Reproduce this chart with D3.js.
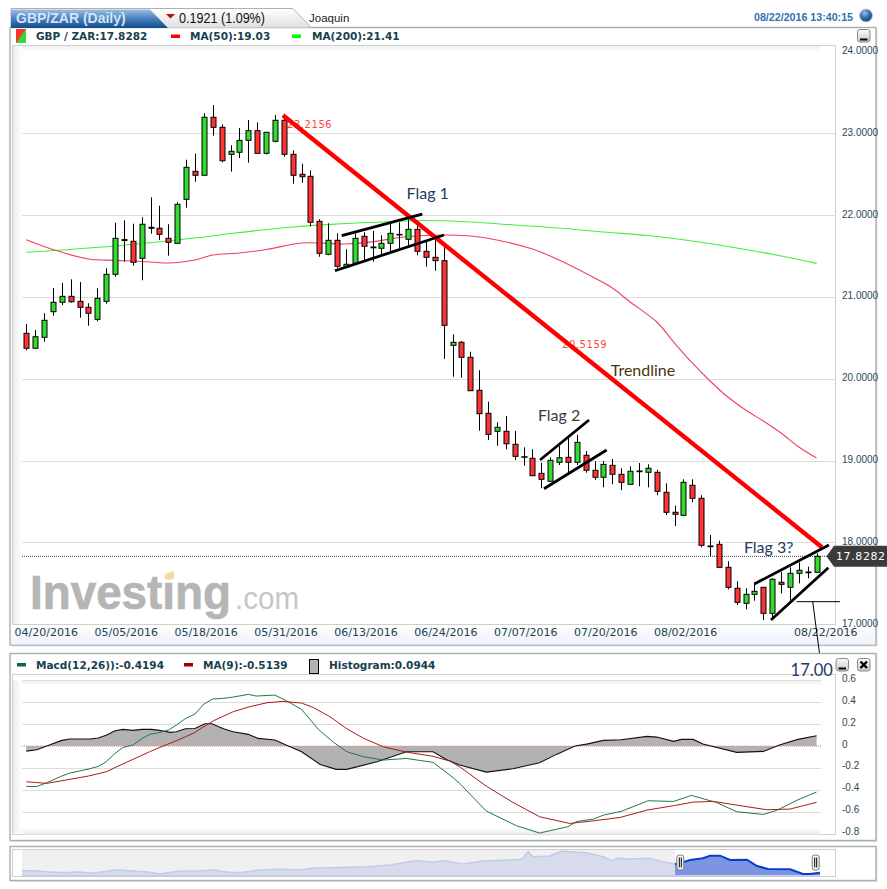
<!DOCTYPE html>
<html><head><meta charset="utf-8">
<script src="https://cdn.jsdelivr.net/npm/d3@7/dist/d3.min.js"></script>
<style>html,body{margin:0;padding:0;background:#fff;overflow:hidden}svg{display:block}</style>
</head><body><svg id="c" width="887" height="889"></svg>
<script>
const opens=[20.555,20.372,20.506,20.819,20.934,21.007,20.946,20.873,20.726,20.946,21.276,21.70,21.68,21.472,21.851,21.839,21.716,21.655,22.193,22.535,22.487,23.196,23.073,22.743,22.768,22.914,23.032,22.755,22.902,23.159,22.743,22.499,22.474,21.924,21.521,21.692,21.366,21.411,21.741,21.61,21.594,21.655,21.765,21.704,21.826,21.557,21.484,21.443,20.408,20.445,20.262,19.858,19.577,19.357,19.357,19.198,19.046,19.027,18.843,18.746,18.978,19.039,18.978,19.064,18.88,18.795,18.941,18.831,18.709,18.872,18.856,18.856,18.611,18.367,18.33,18.697,18.538,17.955,17.975,17.694,17.438,17.254,17.364,17.45,17.132,17.511,17.45,17.621,17.637,17.633];
const closes=[20.372,20.513,20.714,20.934,21.007,20.941,20.873,20.80,20.983,21.276,21.716,21.69,21.423,21.888,21.839,21.765,21.667,22.132,22.584,22.487,23.196,23.073,22.665,22.78,22.914,23.032,22.755,23.012,23.159,22.743,22.487,22.469,21.912,21.533,21.692,21.374,21.399,21.716,21.619,21.60,21.655,21.777,21.757,21.826,21.557,21.484,21.443,20.653,20.445,20.262,19.853,19.572,19.32,19.406,19.205,19.051,19.039,18.814,18.77,19.002,19.034,18.978,19.222,18.88,18.795,18.953,18.831,18.733,18.868,18.863,18.905,18.623,18.367,18.342,18.733,18.538,17.963,17.946,17.694,17.45,17.266,17.364,17.401,17.132,17.548,17.486,17.621,17.658,17.628,17.8282];
const highs=[20.669,20.595,20.80,21.109,21.17,21.215,21.182,20.922,21.105,21.35,21.907,21.936,21.895,21.973,22.218,22.115,21.888,22.156,22.677,22.751,23.245,23.346,23.11,22.853,23.065,23.163,23.134,23.012,23.224,23.187,22.792,22.628,22.548,21.949,21.90,21.777,21.582,21.777,21.79,21.806,21.753,21.90,21.912,21.949,21.867,21.675,21.716,21.622,20.543,20.461,20.33,20.103,19.719,19.467,19.544,19.361,19.161,19.137,18.973,19.039,19.177,19.291,19.312,19.116,18.99,18.994,19.018,18.905,18.929,18.969,18.953,18.887,18.721,18.447,18.77,18.77,18.575,18.089,18.02,17.768,17.523,17.438,17.499,17.45,17.56,17.641,17.694,17.755,17.702,17.865];
const lows=[20.347,20.372,20.452,20.77,20.901,20.929,20.746,20.648,20.702,20.917,21.247,21.43,21.381,21.203,21.773,21.696,21.504,21.655,22.09,22.408,22.487,22.971,22.645,22.531,22.698,22.641,22.755,22.743,22.89,22.714,22.384,22.396,21.863,21.491,21.509,21.35,21.35,21.411,21.451,21.43,21.504,21.553,21.594,21.614,21.509,21.369,21.32,20.241,20.024,20.012,19.853,19.364,19.251,19.181,19.137,19.006,18.936,18.814,18.66,18.746,18.945,18.851,18.945,18.851,18.762,18.672,18.709,18.639,18.709,18.685,18.672,18.575,18.334,18.199,18.322,18.489,17.939,17.832,17.694,17.425,17.233,17.181,17.286,17.05,17.05,17.376,17.286,17.499,17.56,17.633];

const priceTicks=[17,18,19,20,21,22,23,24];
const dateTickIdx=[2,11,20,29,38,47,56,65,74,89];
const dateTickLabels=["04/20/2016","05/05/2016","05/18/2016","05/31/2016","06/13/2016","06/24/2016","07/07/2016","07/20/2016","08/02/2016","08/22/2016"];

const ma50Idx=[0,3,7,10,14,16,19,21,24,27,31,36,39,43,47,50,53,57,60,64,66,68,71,73,75,77,79,81,83,85,87,89];
const ma50Val=[21.699,21.579,21.463,21.447,21.427,21.414,21.451,21.512,21.537,21.579,21.659,21.647,21.675,21.738,21.757,21.744,21.696,21.586,21.451,21.231,21.109,20.938,20.693,20.436,20.192,19.972,19.776,19.617,19.483,19.336,19.165,19.03];
const ma200Idx=[0,10,20,23,30,35,40,45,50,55,60,65,70,75,80,85,89];
const ma200Val=[21.545,21.622,21.732,21.775,21.855,21.891,21.916,21.934,21.916,21.879,21.842,21.793,21.751,21.683,21.598,21.50,21.41];

const trendIdx=[28.9,89.6];
const trendVal=[23.22,17.94];
const flagLines=[
 {name:"flag1Upper",i:[35.52,44.59],p:[21.748,22.013]},
 {name:"flag1Lower",i:[34.76,47.04],p:[21.32,21.757]},
 {name:"flag2Upper",i:[57.85,63.37],p:[19.006,19.495]},
 {name:"flag2Lower",i:[58.3,65.36],p:[18.655,19.128]},
 {name:"flag3Upper",i:[81.98,90.39],p:[17.49,17.967]},
 {name:"flag3Lower",i:[83.86,90.32],p:[17.05,17.689]}];
const notes=[
 {t:"Flag 1",i:45.2,p:22.20,c:"#1f3a63"},
 {t:"Flag 2",i:60,p:19.48,c:"#3a3a3a"},
 {t:"Flag 3?",i:83.6,p:17.87,c:"#1f3a63"},
 {t:"Trendline",i:69.45,p:20.03,c:"#4a3410"},
 {t:"17.00",i:88.45,p:16.37,c:"#1f3a63"}];

const histIdx=[0,1.2,2.3,4,4.9,7.2,8.1,9,10,10.9,12,13,14.1,15,16.2,16.9,17.9,19,20.1,20.9,22.2,23.3,25,26.1,28,29.7,31,33.1,34.9,36.1,39.5,42.8,45.8,47.3,48.8,51.8,54.8,57.8,59.7,61.8,63.1,65,67,69.9,71,72.9,73.8,75.1,76.2,80,83,84.9,86.9,89];
const histVal=[-.046,-.034,0,.052,.064,.064,.073,.098,.14,.152,.143,.152,.152,.143,.125,.131,.158,.161,.204,.204,.158,.131,.107,.07,.055,-.006,-.052,-.168,-.213,-.213,-.143,-.052,-.052,-.122,-.174,-.238,-.207,-.152,-.076,0,.018,.052,.058,.088,.082,.043,.061,.061,.018,-.058,-.049,.012,.061,.0944];
const macdIdx=[0,1.2,2.3,4,4.9,7,8.1,9,10,10.9,12,13,13.9,15.1,16,16.9,17.9,19,20,21,22.2,23.3,25,25.9,28,29.3,31,32.9,34.6,36.1,38,40.2,42.8,45.8,47.7,48.8,51.8,55.2,57.8,61,62,63.9,65,67,70,72.9,74.9,77.7,80,83,84.5,86.9,89];
const macdVal=[-.369,-.369,-.335,-.274,-.247,-.21,-.186,-.143,-.067,-.012,.009,.067,.107,.125,.146,.192,.25,.293,.384,.43,.436,.448,.472,.457,.466,.414,.335,.152,.034,-.052,-.098,-.128,-.113,-.149,-.265,-.341,-.594,-.728,-.795,-.737,-.689,-.667,-.631,-.597,-.5,-.506,-.451,-.515,-.6,-.625,-.588,-.491,-.4194];
const signalIdx=[0,2.3,4,7,9,10.2,12,13.9,15.4,16.9,18.8,21.1,23.3,25.2,27.1,28.9,31,32.3,34.2,36.1,38,40.2,42.8,45.8,47.7,48.8,51.8,54.8,57.8,61.2,63.9,66.9,69.9,72.9,75.1,77.4,80.4,83.4,86,89];
const signalVal=[-.326,-.341,-.317,-.274,-.235,-.189,-.122,-.052,0,.049,.116,.232,.314,.36,.396,.408,.393,.353,.268,.158,.07,-.006,-.055,-.094,-.137,-.189,-.366,-.515,-.646,-.707,-.683,-.652,-.585,-.545,-.512,-.506,-.545,-.582,-.576,-.5139];
const macdTicks=[-.8,-.6,-.4,-.2,0,.2,.4,.6];

const navPos=[0,11,28,45,55,71,85,95,111,125,138,158,178,191,205,218,238,258,278,291,311,345,368,381,395,411,421,441,461,488,500,506,511,528,540,565,581,590,596,605,628,638,653];
const navVal=[5.3,5.3,4,3.3,4.3,2.7,4.7,6.3,5,4,2,5,5,6,4,3.3,6,6.7,6,8,8.3,9.3,11,13.3,15.3,13.7,15.3,12,15,16,16.7,24.3,19.3,20,25,23,19.3,15.3,18,17,17.7,14.7,12];
const navSelPos=[653,658,668,681,688,698,708,725,735,746,768,781,788,798];
const navSelVal=[12,12.7,16,17.7,20.3,20.3,16,16.3,10,7,6.7,2,2,3.3];

const PX=22, PR=836, SHADE_R=821;
const svg=d3.select("#c");
const x=d3.scaleLinear().domain([0,89]).range([26.3,816.6]);
const y=d3.scaleLinear().domain([17,24]).range([624.1,51.5]);
const ym=d3.scaleLinear().domain([-.8,.6]).range([833.6,680.4]);
const nx=d3.scaleLinear().domain([0,798]).range([22,820]);
const ny=d3.scaleLinear().domain([0,26]).range([876,850]);
const VERD="'DejaVu Sans',sans-serif", ARI="'Liberation Sans',Arial,sans-serif";
const TXT="#17404d";

const defs=svg.append("defs");
function grad(id,x2,y2,stops){const g=defs.append("linearGradient").attr("id",id).attr("x1",0).attr("y1",0).attr("x2",x2).attr("y2",y2);
 stops.forEach(s=>g.append("stop").attr("offset",s[0]).attr("stop-color",s[1]));}
grad("blue",0,1,[[0,"#9dbfe4"],[.45,"#4d86c4"],[1,"#0f4c8c"]]);
grad("tabg",0,1,[[0,"#ffffff"],[1,"#dfdfdf"]]);
grad("shL",1,0,[[0,"#ececec"],[1,"#ffffff"]]);
grad("shT",0,1,[[0,"#f0f0f0"],[1,"#ffffff"]]);
grad("shB",0,1,[[0,"#ffffff"],[1,"#ececec"]]);
grad("band",0,1,[[0,"#ffffff"],[1,"#edf3fb"]]);
grad("btn",0,1,[[0,"#fbfbfb"],[1,"#c9c9c9"]]);
const rg=defs.append("radialGradient").attr("id","ball").attr("cx",.4).attr("cy",.3).attr("r",.8);
rg.append("stop").attr("offset",0).attr("stop-color","#9cc0ea");rg.append("stop").attr("offset",.5).attr("stop-color","#2d69b4");rg.append("stop").attr("offset",1).attr("stop-color","#16386c");

function panel(x0,y0,x1,y1){
 svg.append("rect").attr("x",x0+1.5).attr("y",y0+1.5).attr("width",x1-x0).attr("height",y1-y0).attr("fill","#e4e4e4");
 svg.append("rect").attr("x",x0).attr("y",y0).attr("width",x1-x0).attr("height",y1-y0).attr("fill","#fff").attr("stroke","#a8aeae").attr("stroke-width",1.4);
}
function button(x0,y0,close){
 svg.append("rect").attr("x",x0).attr("y",y0).attr("width",12.5).attr("height",12.5).attr("rx",2.5).attr("fill","url(#btn)").attr("stroke","#8a8a8a");
 if(close){svg.append("path").attr("d",`M${x0+3} ${y0+3}L${x0+9.5} ${y0+9.5}M${x0+9.5} ${y0+3}L${x0+3} ${y0+9.5}`).attr("stroke","#000").attr("stroke-width",2.4);}
 else{svg.append("rect").attr("x",x0+2.5).attr("y",y0+9).attr("width",7.5).attr("height",2).attr("fill","#000");}
}
function label(t,xx,yy,o={}){return svg.append("text").attr("x",xx).attr("y",yy).text(t)
 .attr("font-family",o.f||VERD).attr("font-size",o.s||10.5).attr("font-weight",o.w||"normal").attr("fill",o.c||TXT).attr("text-anchor",o.a||"start");}

/* top panel */
panel(10,27.5,876,645);
svg.append("rect").attr("x",11).attr("y",625).attr("width",864).attr("height",19.5).attr("fill","url(#band)");
svg.append("rect").attr("x",12.5).attr("y",45.5).attr("width",823).attr("height",579).attr("fill","#fff").attr("stroke","#cfcfcf");
svg.append("rect").attr("x",13).attr("y",46).attr("width",9).attr("height",578).attr("fill","url(#shL)");
svg.append("rect").attr("x",PX).attr("y",46).attr("width",SHADE_R-PX).attr("height",6).attr("fill","url(#shT)");

/* tabs */
svg.append("path").attr("d","M11 28V8.5H293L311 27.5").attr("fill","url(#tabg)").attr("stroke","#b0b0b0");
svg.append("path").attr("d","M11 28V9.5H150L168 28Z").attr("fill","url(#blue)");
label("GBP/ZAR (Daily)",16,23,{f:ARI,s:14,w:"bold",c:"#d7e4f3"});
svg.append("path").attr("d","M166 14H175L170.5 18.5Z").attr("fill","#b01010");
label("0.1921 (1.09%)",179,22.5,{f:ARI,s:14.5,c:"#111"}).attr("textLength",86).attr("lengthAdjust","spacingAndGlyphs");
label("Joaquin",309,22,{f:ARI,s:11.5,c:"#222"});
label("08/22/2016 13:40:15",754,21,{f:ARI,s:11.5,w:"bold",c:"#2f6fb3"}).attr("textLength",99).attr("lengthAdjust","spacingAndGlyphs");
svg.append("circle").attr("cx",866).attr("cy",15.5).attr("r",6.5).attr("fill","url(#ball)").attr("stroke","#c8c8c8");
button(857.5,29.5,false);

/* legend */
svg.append("rect").attr("x",16).attr("y",29).attr("width",10).attr("height",14).attr("fill","#2fdc2f");
svg.append("path").attr("d","M16 29H26L16 43Z").attr("fill","#f33");
label("GBP / ZAR:17.8282",36,40,{w:"bold"});
svg.append("rect").attr("x",171).attr("y",34.5).attr("width",9).attr("height",3.5).attr("fill","#f00");
label("MA(50):19.03",190,40,{w:"bold"});
svg.append("rect").attr("x",292).attr("y",34.5).attr("width",9).attr("height",3.5).attr("fill","#0f0");
label("MA(200):21.41",312,40,{w:"bold"});

/* grid */
svg.append("g").selectAll("line").data(priceTicks.slice(1,-1)).join("line")
 .attr("x1",PX).attr("x2",PR).attr("y1",d=>Math.round(y(d))+.5).attr("y2",d=>Math.round(y(d))+.5).attr("stroke","#dcdcdc");

/* watermark */
const wm=svg.append("g");
wm.append("text").attr("x",30).attr("y",608.5).text("Investing").attr("font-family",ARI).attr("font-weight","bold").attr("font-size",48).attr("fill","#b5b5b5").attr("stroke","#b5b5b5").attr("stroke-width",.7).attr("textLength",201).attr("lengthAdjust","spacingAndGlyphs");
wm.append("text").attr("x",235).attr("y",608.5).text(".com").attr("font-family",ARI).attr("font-size",30.5).attr("fill","#c6c6c6").attr("textLength",64).attr("lengthAdjust","spacingAndGlyphs");
wm.append("path").attr("d","M165 574L174 571V579H165Z").attr("fill","#f7d9a4");

/* axes */
const gy=svg.append("g").attr("transform","translate(842,0)").call(d3.axisRight(y).tickValues(priceTicks).tickFormat(d3.format(".4f")).tickSize(0).tickPadding(0));
gy.select(".domain").remove();
gy.selectAll("text").attr("font-family",ARI).attr("font-size",10).attr("fill","#2a4a55").attr("dy","0.2em");
const gx=svg.append("g").attr("transform","translate(1.7,632)").call(d3.axisBottom(x).tickValues(dateTickIdx).tickFormat((d,i)=>dateTickLabels[i]).tickSize(0).tickPadding(0));
gx.select(".domain").remove();
gx.selectAll("text").attr("font-family",VERD).attr("font-size",11).attr("fill","#24414c").attr("dy",0).attr("y",4)
 .attr("dx",(d,i)=>i===dateTickLabels.length-1?7:0);

/* MAs */
const mline=(idx,val)=>d3.line().curve(d3.curveCatmullRom).x(d=>x(d)).y((d,i)=>y(val[i]))(idx);
svg.append("path").attr("d",mline(ma200Idx,ma200Val)).attr("fill","none").attr("stroke","#3cf03c").attr("stroke-width",1.1);
svg.append("path").attr("d",mline(ma50Idx,ma50Val)).attr("fill","none").attr("stroke","#f0405a").attr("stroke-width",1.1);

/* last-price dotted */
svg.append("line").attr("x1",PX).attr("x2",827).attr("y1",y(closes[89])).attr("y2",y(closes[89])).attr("stroke","#444").attr("stroke-dasharray","1,1");

/* value labels */
svg.append("text").attr("x",287).attr("y",128).text("23.2156").attr("font-family",VERD).attr("font-size",10).attr("letter-spacing",.55).attr("fill","#f44");
svg.append("text").attr("x",562).attr("y",348).text("20.5159").attr("font-family",VERD).attr("font-size",10).attr("letter-spacing",.55).attr("fill","#f44");

/* candles */
const cg=svg.append("g");
const data=opens.map((o,i)=>({i,o,c:closes[i],h:highs[i],l:lows[i]}));
cg.selectAll("line").data(data).join("line")
 .attr("x1",d=>Math.round(x(d.i))+.5).attr("x2",d=>Math.round(x(d.i))+.5)
 .attr("y1",d=>y(d.h)).attr("y2",d=>y(d.l)).attr("stroke","#000").attr("stroke-width",1);
cg.selectAll("rect").data(data).join("rect")
 .attr("x",d=>Math.round(x(d.i))-2).attr("width",5)
 .attr("y",d=>y(Math.max(d.o,d.c))).attr("height",d=>Math.max(.3,Math.abs(y(d.o)-y(d.c))))
 .attr("fill",d=>d.c>=d.o?"#2fdc2f":"#f33").attr("stroke","#000").attr("stroke-width",1);

/* drawn lines */
svg.append("line").attr("x1",x(trendIdx[0])).attr("y1",y(trendVal[0])).attr("x2",x(trendIdx[1])).attr("y2",y(trendVal[1])).attr("stroke","#f00").attr("stroke-width",4.4);
svg.append("g").selectAll("line").data(flagLines).join("line")
 .attr("x1",d=>x(d.i[0])).attr("y1",d=>y(d.p[0])).attr("x2",d=>x(d.i[1])).attr("y2",d=>y(d.p[1])).attr("stroke","#000").attr("stroke-width",2.8);
svg.append("line").attr("x1",x(86.76)).attr("x2",x(91.63)).attr("y1",y(17.274)).attr("y2",y(17.274)).attr("stroke","#000");
svg.append("line").attr("x1",x(88.56)).attr("x2",x(89.5)).attr("y1",y(17.274)).attr("y2",y(16.5)).attr("stroke","#000");

/* tag */
const ly=y(closes[89]);
svg.append("path").attr("d",`M826.5 ${ly}L834 ${ly-10.5}H887V${ly+10.5}H834Z`).attr("fill","#3b3b3b");
svg.append("text").attr("x",836).attr("y",ly+4).text("17.8282").attr("font-family",VERD).attr("font-size",11).attr("letter-spacing",.6).attr("fill","#fff");

/* MACD panel */
panel(10,653.5,876,840.5);
svg.append("rect").attr("x",12.5).attr("y",674.5).attr("width",823).attr("height",160).attr("fill","#fff").attr("stroke","#cfcfcf");
svg.append("rect").attr("x",13).attr("y",680.5).attr("width",9).attr("height",153).attr("fill","url(#shL)");
svg.append("rect").attr("x",PX).attr("y",681).attr("width",SHADE_R-PX).attr("height",5).attr("fill","url(#shT)");
svg.append("rect").attr("x",PX).attr("y",828).attr("width",SHADE_R-PX).attr("height",6).attr("fill","url(#shB)");
svg.append("g").selectAll("line").data(macdTicks.filter(d=>d!==0)).join("line")
 .attr("x1",PX).attr("x2",SHADE_R).attr("y1",d=>Math.round(ym(d))+.5).attr("y2",d=>Math.round(ym(d))+.5).attr("stroke","#dcdcdc");
button(836,658.5,false);button(857.5,658.5,true);

svg.append("path").attr("d",d3.area().x(d=>x(d)).y0(ym(0)).y1((d,i)=>ym(histVal[i]))(histIdx)).attr("fill","#b2b2b2");
svg.append("line").attr("x1",PX).attr("x2",SHADE_R).attr("y1",ym(0)).attr("y2",ym(0)).attr("stroke","#f48f8f").attr("stroke-dasharray","1,1").attr("stroke-width",1.2);
const ml=(idx,val)=>d3.line().x(d=>x(d)).y((d,i)=>ym(val[i]))(idx);
svg.append("path").attr("d",ml(histIdx,histVal)).attr("fill","none").attr("stroke","#111").attr("stroke-width",1.1);
svg.append("path").attr("d",ml(macdIdx,macdVal)).attr("fill","none").attr("stroke","#1f7a4d").attr("stroke-width",1);
svg.append("path").attr("d",ml(signalIdx,signalVal)).attr("fill","none").attr("stroke","#a81c1c").attr("stroke-width",1);

const gm=svg.append("g").attr("transform","translate(842,-2)").call(d3.axisRight(ym).tickValues(macdTicks).tickFormat(d=>d===0?"0":d3.format(".1f")(d).replace("−","-")).tickSize(0).tickPadding(0));
gm.select(".domain").remove();
gm.selectAll("text").attr("font-family",ARI).attr("font-size",10).attr("fill","#2a4a55").attr("dy","0.3em");

svg.append("rect").attr("x",17).attr("y",663).attr("width",9).attr("height",3.5).attr("fill","#0b6b3a");
label("Macd(12,26)):-0.4194",36,669,{w:"bold"});
svg.append("rect").attr("x",184).attr("y",663).attr("width",9).attr("height",3.5).attr("fill","#a00000");
label("MA(9):-0.5139",203,669,{w:"bold"});
svg.append("rect").attr("x",309.5).attr("y",659.5).attr("width",9).attr("height",14).attr("fill","#b2b2b2").attr("stroke","#000");
label("Histogram:0.0944",329,669,{w:"bold"});

/* navigator */
panel(10,846.5,876,880.5);
svg.append("rect").attr("x",12.5).attr("y",849.5).attr("width",823).attr("height",27).attr("fill","#fff").attr("stroke","#cfcfcf");
svg.append("rect").attr("x",22).attr("y",850).attr("width",653).attr("height",26).attr("fill","#f0f0f0");
const na=(p,v)=>d3.area().x(d=>nx(d)).y0(ny(0)).y1((d,i)=>ny(v[i]))(p);
const nl=(p,v)=>d3.line().x(d=>nx(d)).y((d,i)=>ny(v[i]))(p);
svg.append("path").attr("d",na(navPos,navVal)).attr("fill","#d7dcec");
svg.append("path").attr("d",nl(navPos,navVal)).attr("fill","none").attr("stroke","#c3cbe8").attr("stroke-width",1.6);
svg.append("path").attr("d",na(navSelPos,navSelVal)).attr("fill","#7c95e2");
svg.append("path").attr("d",nl(navSelPos,navSelVal)).attr("fill","none").attr("stroke","#0a3ccc").attr("stroke-width",2);
svg.append("rect").attr("x",22).attr("y",875).attr("width",798).attr("height",1.5).attr("fill","#c3cbe8");
[680.3,815.7].forEach(c=>{
 svg.append("rect").attr("x",c-3.5).attr("y",855).attr("width",7).attr("height",15).attr("rx",2.5).attr("fill","#f6f6f6").attr("stroke","#777");
 svg.append("path").attr("d",`M${c-1} 857.5V867.5M${c+1} 857.5V867.5`).attr("stroke","#000").attr("stroke-width",1);
});

/* hand notes, on top */
svg.append("g").selectAll("text").data(notes).join("text")
 .attr("x",d=>x(d.i)).attr("y",d=>y(d.p)).text(d=>d.t).attr("text-anchor","middle")
 .attr("font-family","Lato,'Open Sans',sans-serif").attr("font-size",d=>d.t==="17.00"?16.5:16).attr("fill",d=>d.c);
</script></body></html>
